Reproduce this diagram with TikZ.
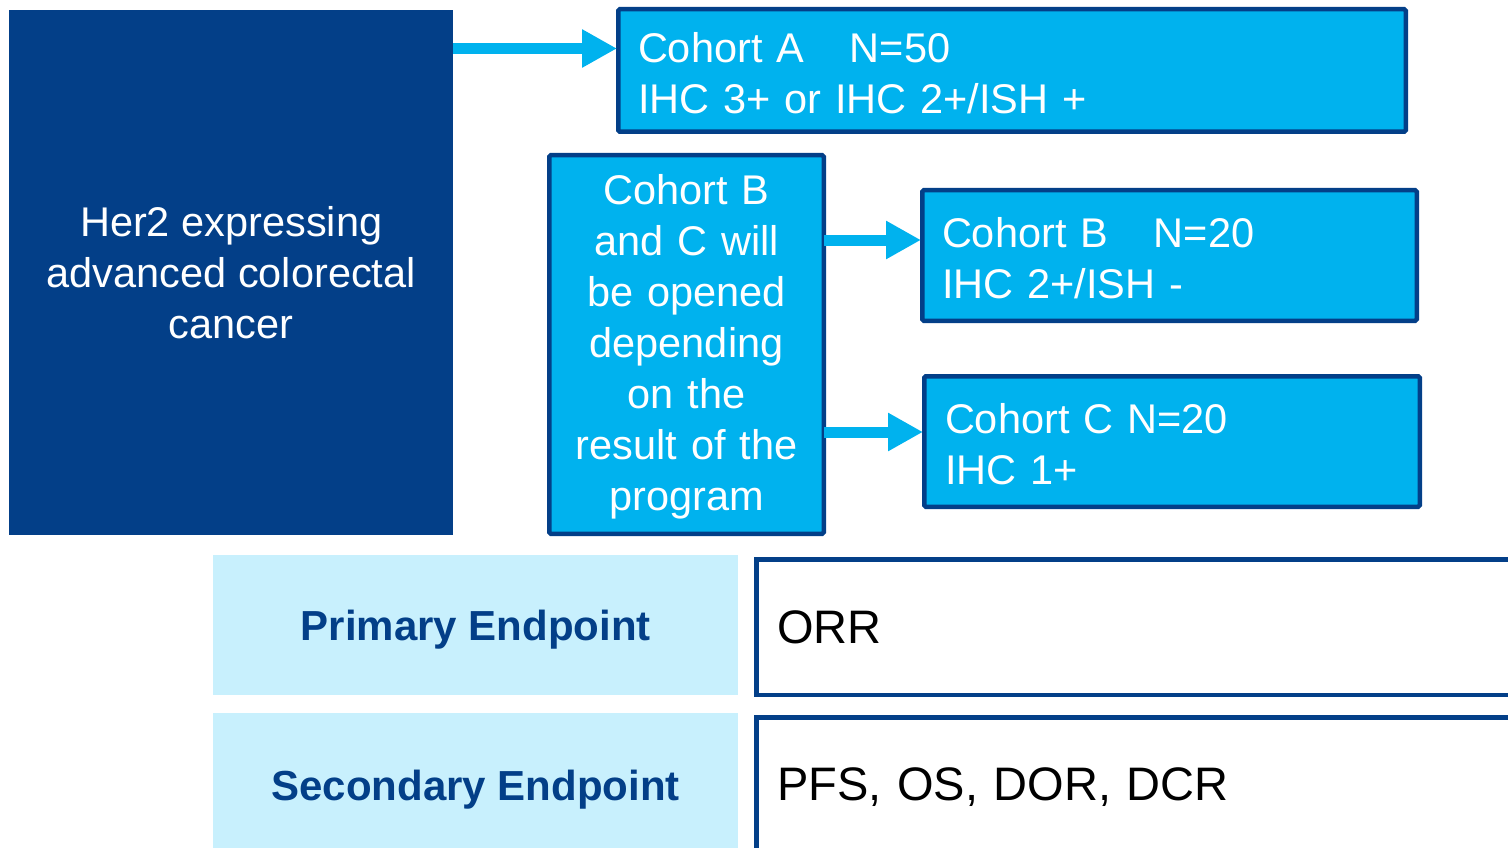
\documentclass[tikz,border=0pt]{standalone}
\usepackage{fontspec}
\setmainfont{Liberation Sans}
\usetikzlibrary{arrows.meta}
\definecolor{navy}{HTML}{033F88}
\definecolor{cyanbox}{HTML}{00B2EE}
\definecolor{lightcy}{HTML}{C8F0FD}
\tikzset{
  cbox/.style={draw=navy, fill=cyanbox, line width=4.5pt, rounded corners=1.5pt, inner sep=0pt, anchor=north west, text=white, font=\fontsize{41.5}{51}\selectfont, execute at begin node={\rule{0pt}{35pt}}},
  lbox/.style={fill=lightcy, inner sep=0pt, anchor=north west, text=navy, font=\fontsize{42}{51}\selectfont\bfseries, align=center, text depth=0pt},
  wbox/.style={draw=navy, fill=white, line width=4.5pt, inner sep=0pt, anchor=north west, text=black, font=\fontsize{47}{56}\selectfont, align=left},
  arr/.style={draw=cyanbox, line width=11pt, -{Triangle[length=35pt,width=36pt]}},
}
\begin{document}
\begin{tikzpicture}[x=1pt,y=-1pt]
\useasboundingbox (0,0) rectangle (1508,848);
\clip (0,0) rectangle (1508,848);
\fill[white] (0,0) rectangle (1508,848);
% left main box
\node[fill=navy, inner sep=0pt, anchor=north west, minimum width=444pt, minimum height=525pt, text=white, align=center, font=\fontsize{41.5}{51}\selectfont, execute at begin node={\rule{0pt}{34pt}}] (her2) at (9,10) {Her2 expressing\\advanced colorectal\\cancer};
% cohort A
\node[cbox, minimum width=787.5pt, minimum height=122.5pt, text width=748pt, align=left] (A) at (616,7) {Cohort A \hspace{32pt}N=50\\IHC 3+ or IHC 2+/ISH +};
% middle box
\node[cbox, minimum width=274.5pt, minimum height=378.5pt, text width=274pt, align=center] (mid) at (547,153) {Cohort B\\and C will\\be opened\\depending\\on the\\result of the\\program};
% cohort B
\node[cbox, minimum width=494.5pt, minimum height=130.5pt, text width=455pt, align=left] (B) at (920,188) {Cohort B \hspace{32pt}N=20\\IHC 2+/ISH -};
% cohort C
\node[cbox, minimum width=495.5pt, minimum height=130.5pt, text width=454pt, align=left] (C) at (922,374) {Cohort C N=20\\IHC 1+};
% arrows
\coordinate (y1) at (0,48.5);
\coordinate (y2) at (0,240);
\coordinate (y3) at (0,432);
\draw[arr] (her2.east |- y1) -- ([xshift=1pt]A.west |- y1);
\draw[arr] ([xshift=-2pt]mid.east |- y2) -- ([xshift=1pt]B.west |- y2);
\draw[arr] ([xshift=-2pt]mid.east |- y3) -- ([xshift=1pt]C.west |- y3);
% endpoints
\node[lbox, minimum width=525pt, minimum height=140pt] (prim) at (213,555) {Primary Endpoint};
\node[lbox, minimum width=525pt, minimum height=144pt] (sec) at (213,713) {Secondary Endpoint};
\node[wbox, minimum width=790pt, minimum height=135.5pt, text width=748.5pt] (orr) at (754,557) {ORR};
\node[wbox, minimum width=790pt, minimum height=139.5pt, text width=748.5pt] (pfs) at (754,715) {PFS, OS, DOR, DCR};
\end{tikzpicture}
\end{document}
